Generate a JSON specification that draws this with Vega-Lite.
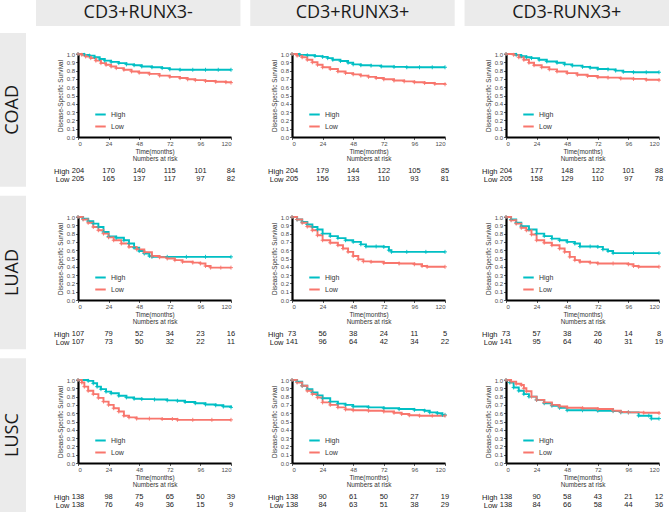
{
"$schema":"https://vega.github.io/schema/vega-lite/v6.json",
"padding":0,
"background":"white",
"config":{"view":{"stroke":null},"font":"Liberation Sans",
"axis":{"grid":false,"domainColor":"#000","domainWidth":2.2,"tickColor":"#333","tickSize":2.5,"tickWidth":0.8,"labelFontSize":6,"labelColor":"#4d4d4d","labelPadding":1,"titleFontSize":6.4,"titleFontWeight":"normal","titleColor":"#333","titlePadding":2,"titleLineHeight":7},
"legend":{"labelFontSize":7,"labelColor":"#333","symbolType":"stroke","symbolStrokeWidth":2,"symbolSize":110,"rowPadding":1,"labelOffset":4,"padding":0}},
"datasets":{
"hdr":[{"g":"CD3+RUNX3-"},{"g":"CD3+RUNX3+"},{"g":"CD3-RUNX3+"}],
"rowlab":[{"c":"COAD"},{"c":"LUAD"},{"c":"LUSC"}],
"pv":[{"c":"COAD","g":"A","p":"p = 0.002"},{"c":"COAD","g":"B","p":"p < 0.001"},{"c":"COAD","g":"C","p":"p = 0.03"},{"c":"LUAD","g":"A","p":"p = 0.232"},{"c":"LUAD","g":"B","p":"p = 0.038"},{"c":"LUAD","g":"C","p":"p = 0.034"},{"c":"LUSC","g":"A","p":"p < 0.001"},{"c":"LUSC","g":"B","p":"p = 0.691"},{"c":"LUSC","g":"C","p":"p = 0.54"}],
"risk":[
{"c":"COAD","g":"A","k":"High","t":0,"n":204},{"c":"COAD","g":"A","k":"High","t":24,"n":170},{"c":"COAD","g":"A","k":"High","t":48,"n":140},{"c":"COAD","g":"A","k":"High","t":72,"n":115},{"c":"COAD","g":"A","k":"High","t":96,"n":101},{"c":"COAD","g":"A","k":"High","t":120,"n":84},
{"c":"COAD","g":"A","k":"Low","t":0,"n":205},{"c":"COAD","g":"A","k":"Low","t":24,"n":165},{"c":"COAD","g":"A","k":"Low","t":48,"n":137},{"c":"COAD","g":"A","k":"Low","t":72,"n":117},{"c":"COAD","g":"A","k":"Low","t":96,"n":97},{"c":"COAD","g":"A","k":"Low","t":120,"n":82},
{"c":"COAD","g":"B","k":"High","t":0,"n":204},{"c":"COAD","g":"B","k":"High","t":24,"n":179},{"c":"COAD","g":"B","k":"High","t":48,"n":144},{"c":"COAD","g":"B","k":"High","t":72,"n":122},{"c":"COAD","g":"B","k":"High","t":96,"n":105},{"c":"COAD","g":"B","k":"High","t":120,"n":85},
{"c":"COAD","g":"B","k":"Low","t":0,"n":205},{"c":"COAD","g":"B","k":"Low","t":24,"n":156},{"c":"COAD","g":"B","k":"Low","t":48,"n":133},{"c":"COAD","g":"B","k":"Low","t":72,"n":110},{"c":"COAD","g":"B","k":"Low","t":96,"n":93},{"c":"COAD","g":"B","k":"Low","t":120,"n":81},
{"c":"COAD","g":"C","k":"High","t":0,"n":204},{"c":"COAD","g":"C","k":"High","t":24,"n":177},{"c":"COAD","g":"C","k":"High","t":48,"n":148},{"c":"COAD","g":"C","k":"High","t":72,"n":122},{"c":"COAD","g":"C","k":"High","t":96,"n":101},{"c":"COAD","g":"C","k":"High","t":120,"n":88},
{"c":"COAD","g":"C","k":"Low","t":0,"n":205},{"c":"COAD","g":"C","k":"Low","t":24,"n":158},{"c":"COAD","g":"C","k":"Low","t":48,"n":129},{"c":"COAD","g":"C","k":"Low","t":72,"n":110},{"c":"COAD","g":"C","k":"Low","t":96,"n":97},{"c":"COAD","g":"C","k":"Low","t":120,"n":78},
{"c":"LUAD","g":"A","k":"High","t":0,"n":107},{"c":"LUAD","g":"A","k":"High","t":24,"n":79},{"c":"LUAD","g":"A","k":"High","t":48,"n":52},{"c":"LUAD","g":"A","k":"High","t":72,"n":34},{"c":"LUAD","g":"A","k":"High","t":96,"n":23},{"c":"LUAD","g":"A","k":"High","t":120,"n":16},
{"c":"LUAD","g":"A","k":"Low","t":0,"n":107},{"c":"LUAD","g":"A","k":"Low","t":24,"n":73},{"c":"LUAD","g":"A","k":"Low","t":48,"n":50},{"c":"LUAD","g":"A","k":"Low","t":72,"n":32},{"c":"LUAD","g":"A","k":"Low","t":96,"n":22},{"c":"LUAD","g":"A","k":"Low","t":120,"n":11},
{"c":"LUAD","g":"B","k":"High","t":0,"n":73},{"c":"LUAD","g":"B","k":"High","t":24,"n":56},{"c":"LUAD","g":"B","k":"High","t":48,"n":38},{"c":"LUAD","g":"B","k":"High","t":72,"n":24},{"c":"LUAD","g":"B","k":"High","t":96,"n":11},{"c":"LUAD","g":"B","k":"High","t":120,"n":5},
{"c":"LUAD","g":"B","k":"Low","t":0,"n":141},{"c":"LUAD","g":"B","k":"Low","t":24,"n":96},{"c":"LUAD","g":"B","k":"Low","t":48,"n":64},{"c":"LUAD","g":"B","k":"Low","t":72,"n":42},{"c":"LUAD","g":"B","k":"Low","t":96,"n":34},{"c":"LUAD","g":"B","k":"Low","t":120,"n":22},
{"c":"LUAD","g":"C","k":"High","t":0,"n":73},{"c":"LUAD","g":"C","k":"High","t":24,"n":57},{"c":"LUAD","g":"C","k":"High","t":48,"n":38},{"c":"LUAD","g":"C","k":"High","t":72,"n":26},{"c":"LUAD","g":"C","k":"High","t":96,"n":14},{"c":"LUAD","g":"C","k":"High","t":120,"n":8},
{"c":"LUAD","g":"C","k":"Low","t":0,"n":141},{"c":"LUAD","g":"C","k":"Low","t":24,"n":95},{"c":"LUAD","g":"C","k":"Low","t":48,"n":64},{"c":"LUAD","g":"C","k":"Low","t":72,"n":40},{"c":"LUAD","g":"C","k":"Low","t":96,"n":31},{"c":"LUAD","g":"C","k":"Low","t":120,"n":19},
{"c":"LUSC","g":"A","k":"High","t":0,"n":138},{"c":"LUSC","g":"A","k":"High","t":24,"n":98},{"c":"LUSC","g":"A","k":"High","t":48,"n":75},{"c":"LUSC","g":"A","k":"High","t":72,"n":65},{"c":"LUSC","g":"A","k":"High","t":96,"n":50},{"c":"LUSC","g":"A","k":"High","t":120,"n":39},
{"c":"LUSC","g":"A","k":"Low","t":0,"n":138},{"c":"LUSC","g":"A","k":"Low","t":24,"n":76},{"c":"LUSC","g":"A","k":"Low","t":48,"n":49},{"c":"LUSC","g":"A","k":"Low","t":72,"n":36},{"c":"LUSC","g":"A","k":"Low","t":96,"n":15},{"c":"LUSC","g":"A","k":"Low","t":120,"n":9},
{"c":"LUSC","g":"B","k":"High","t":0,"n":138},{"c":"LUSC","g":"B","k":"High","t":24,"n":90},{"c":"LUSC","g":"B","k":"High","t":48,"n":61},{"c":"LUSC","g":"B","k":"High","t":72,"n":50},{"c":"LUSC","g":"B","k":"High","t":96,"n":27},{"c":"LUSC","g":"B","k":"High","t":120,"n":19},
{"c":"LUSC","g":"B","k":"Low","t":0,"n":138},{"c":"LUSC","g":"B","k":"Low","t":24,"n":84},{"c":"LUSC","g":"B","k":"Low","t":48,"n":63},{"c":"LUSC","g":"B","k":"Low","t":72,"n":51},{"c":"LUSC","g":"B","k":"Low","t":96,"n":38},{"c":"LUSC","g":"B","k":"Low","t":120,"n":29},
{"c":"LUSC","g":"C","k":"High","t":0,"n":138},{"c":"LUSC","g":"C","k":"High","t":24,"n":90},{"c":"LUSC","g":"C","k":"High","t":48,"n":58},{"c":"LUSC","g":"C","k":"High","t":72,"n":43},{"c":"LUSC","g":"C","k":"High","t":96,"n":21},{"c":"LUSC","g":"C","k":"High","t":120,"n":12},
{"c":"LUSC","g":"C","k":"Low","t":0,"n":138},{"c":"LUSC","g":"C","k":"Low","t":24,"n":84},{"c":"LUSC","g":"C","k":"Low","t":48,"n":66},{"c":"LUSC","g":"C","k":"Low","t":72,"n":58},{"c":"LUSC","g":"C","k":"Low","t":96,"n":44},{"c":"LUSC","g":"C","k":"Low","t":120,"n":36}
],
"km":[
{"c":"COAD","g":"A","k":"High","t":0,"s":1},{"c":"COAD","g":"A","k":"High","t":5,"s":0.99},{"c":"COAD","g":"A","k":"High","t":9,"s":0.98},{"c":"COAD","g":"A","k":"High","t":13,"s":0.96},{"c":"COAD","g":"A","k":"High","t":17,"s":0.94},{"c":"COAD","g":"A","k":"High","t":21,"s":0.92},{"c":"COAD","g":"A","k":"High","t":26,"s":0.905},{"c":"COAD","g":"A","k":"High","t":32,"s":0.89},{"c":"COAD","g":"A","k":"High","t":38,"s":0.875},{"c":"COAD","g":"A","k":"High","t":44,"s":0.865},{"c":"COAD","g":"A","k":"High","t":50,"s":0.85},{"c":"COAD","g":"A","k":"High","t":58,"s":0.84},{"c":"COAD","g":"A","k":"High","t":66,"s":0.83},{"c":"COAD","g":"A","k":"High","t":72,"s":0.815},{"c":"COAD","g":"A","k":"High","t":80,"s":0.81},{"c":"COAD","g":"A","k":"High","t":90,"s":0.81},{"c":"COAD","g":"A","k":"High","t":100,"s":0.81},{"c":"COAD","g":"A","k":"High","t":110,"s":0.81},{"c":"COAD","g":"A","k":"High","t":120,"s":0.81},
{"c":"COAD","g":"A","k":"Low","t":0,"s":1},{"c":"COAD","g":"A","k":"Low","t":3,"s":0.99},{"c":"COAD","g":"A","k":"Low","t":6,"s":0.97},{"c":"COAD","g":"A","k":"Low","t":10,"s":0.95},{"c":"COAD","g":"A","k":"Low","t":14,"s":0.92},{"c":"COAD","g":"A","k":"Low","t":18,"s":0.89},{"c":"COAD","g":"A","k":"Low","t":22,"s":0.87},{"c":"COAD","g":"A","k":"Low","t":26,"s":0.85},{"c":"COAD","g":"A","k":"Low","t":30,"s":0.83},{"c":"COAD","g":"A","k":"Low","t":36,"s":0.81},{"c":"COAD","g":"A","k":"Low","t":42,"s":0.79},{"c":"COAD","g":"A","k":"Low","t":48,"s":0.775},{"c":"COAD","g":"A","k":"Low","t":56,"s":0.76},{"c":"COAD","g":"A","k":"Low","t":64,"s":0.74},{"c":"COAD","g":"A","k":"Low","t":72,"s":0.725},{"c":"COAD","g":"A","k":"Low","t":80,"s":0.71},{"c":"COAD","g":"A","k":"Low","t":86,"s":0.695},{"c":"COAD","g":"A","k":"Low","t":92,"s":0.685},{"c":"COAD","g":"A","k":"Low","t":100,"s":0.675},{"c":"COAD","g":"A","k":"Low","t":108,"s":0.665},{"c":"COAD","g":"A","k":"Low","t":116,"s":0.66},{"c":"COAD","g":"A","k":"Low","t":120,"s":0.655},
{"c":"COAD","g":"B","k":"High","t":0,"s":1},{"c":"COAD","g":"B","k":"High","t":6,"s":0.99},{"c":"COAD","g":"B","k":"High","t":12,"s":0.985},{"c":"COAD","g":"B","k":"High","t":18,"s":0.975},{"c":"COAD","g":"B","k":"High","t":24,"s":0.965},{"c":"COAD","g":"B","k":"High","t":28,"s":0.95},{"c":"COAD","g":"B","k":"High","t":32,"s":0.93},{"c":"COAD","g":"B","k":"High","t":38,"s":0.915},{"c":"COAD","g":"B","k":"High","t":44,"s":0.895},{"c":"COAD","g":"B","k":"High","t":48,"s":0.875},{"c":"COAD","g":"B","k":"High","t":54,"s":0.865},{"c":"COAD","g":"B","k":"High","t":62,"s":0.86},{"c":"COAD","g":"B","k":"High","t":70,"s":0.85},{"c":"COAD","g":"B","k":"High","t":80,"s":0.845},{"c":"COAD","g":"B","k":"High","t":90,"s":0.84},{"c":"COAD","g":"B","k":"High","t":100,"s":0.84},{"c":"COAD","g":"B","k":"High","t":110,"s":0.84},{"c":"COAD","g":"B","k":"High","t":120,"s":0.84},
{"c":"COAD","g":"B","k":"Low","t":0,"s":1},{"c":"COAD","g":"B","k":"Low","t":4,"s":0.98},{"c":"COAD","g":"B","k":"Low","t":8,"s":0.96},{"c":"COAD","g":"B","k":"Low","t":12,"s":0.93},{"c":"COAD","g":"B","k":"Low","t":16,"s":0.9},{"c":"COAD","g":"B","k":"Low","t":20,"s":0.87},{"c":"COAD","g":"B","k":"Low","t":24,"s":0.84},{"c":"COAD","g":"B","k":"Low","t":30,"s":0.82},{"c":"COAD","g":"B","k":"Low","t":36,"s":0.79},{"c":"COAD","g":"B","k":"Low","t":42,"s":0.77},{"c":"COAD","g":"B","k":"Low","t":48,"s":0.755},{"c":"COAD","g":"B","k":"Low","t":54,"s":0.74},{"c":"COAD","g":"B","k":"Low","t":60,"s":0.725},{"c":"COAD","g":"B","k":"Low","t":66,"s":0.71},{"c":"COAD","g":"B","k":"Low","t":72,"s":0.695},{"c":"COAD","g":"B","k":"Low","t":80,"s":0.68},{"c":"COAD","g":"B","k":"Low","t":88,"s":0.67},{"c":"COAD","g":"B","k":"Low","t":96,"s":0.66},{"c":"COAD","g":"B","k":"Low","t":104,"s":0.65},{"c":"COAD","g":"B","k":"Low","t":112,"s":0.64},{"c":"COAD","g":"B","k":"Low","t":120,"s":0.635},
{"c":"COAD","g":"C","k":"High","t":0,"s":1},{"c":"COAD","g":"C","k":"High","t":8,"s":0.99},{"c":"COAD","g":"C","k":"High","t":12,"s":0.975},{"c":"COAD","g":"C","k":"High","t":16,"s":0.96},{"c":"COAD","g":"C","k":"High","t":20,"s":0.95},{"c":"COAD","g":"C","k":"High","t":26,"s":0.93},{"c":"COAD","g":"C","k":"High","t":32,"s":0.91},{"c":"COAD","g":"C","k":"High","t":40,"s":0.895},{"c":"COAD","g":"C","k":"High","t":46,"s":0.875},{"c":"COAD","g":"C","k":"High","t":52,"s":0.86},{"c":"COAD","g":"C","k":"High","t":60,"s":0.845},{"c":"COAD","g":"C","k":"High","t":66,"s":0.835},{"c":"COAD","g":"C","k":"High","t":72,"s":0.82},{"c":"COAD","g":"C","k":"High","t":80,"s":0.815},{"c":"COAD","g":"C","k":"High","t":86,"s":0.8},{"c":"COAD","g":"C","k":"High","t":92,"s":0.785},{"c":"COAD","g":"C","k":"High","t":100,"s":0.78},{"c":"COAD","g":"C","k":"High","t":110,"s":0.78},{"c":"COAD","g":"C","k":"High","t":120,"s":0.78},
{"c":"COAD","g":"C","k":"Low","t":0,"s":1},{"c":"COAD","g":"C","k":"Low","t":6,"s":0.99},{"c":"COAD","g":"C","k":"Low","t":10,"s":0.96},{"c":"COAD","g":"C","k":"Low","t":14,"s":0.93},{"c":"COAD","g":"C","k":"Low","t":18,"s":0.895},{"c":"COAD","g":"C","k":"Low","t":22,"s":0.865},{"c":"COAD","g":"C","k":"Low","t":28,"s":0.84},{"c":"COAD","g":"C","k":"Low","t":34,"s":0.815},{"c":"COAD","g":"C","k":"Low","t":40,"s":0.79},{"c":"COAD","g":"C","k":"Low","t":48,"s":0.77},{"c":"COAD","g":"C","k":"Low","t":56,"s":0.75},{"c":"COAD","g":"C","k":"Low","t":64,"s":0.735},{"c":"COAD","g":"C","k":"Low","t":72,"s":0.72},{"c":"COAD","g":"C","k":"Low","t":80,"s":0.715},{"c":"COAD","g":"C","k":"Low","t":90,"s":0.705},{"c":"COAD","g":"C","k":"Low","t":100,"s":0.7},{"c":"COAD","g":"C","k":"Low","t":110,"s":0.69},{"c":"COAD","g":"C","k":"Low","t":120,"s":0.685},
{"c":"LUAD","g":"A","k":"High","t":0,"s":1},{"c":"LUAD","g":"A","k":"High","t":4,"s":0.98},{"c":"LUAD","g":"A","k":"High","t":8,"s":0.95},{"c":"LUAD","g":"A","k":"High","t":12,"s":0.92},{"c":"LUAD","g":"A","k":"High","t":16,"s":0.88},{"c":"LUAD","g":"A","k":"High","t":20,"s":0.82},{"c":"LUAD","g":"A","k":"High","t":24,"s":0.765},{"c":"LUAD","g":"A","k":"High","t":30,"s":0.75},{"c":"LUAD","g":"A","k":"High","t":36,"s":0.72},{"c":"LUAD","g":"A","k":"High","t":40,"s":0.68},{"c":"LUAD","g":"A","k":"High","t":44,"s":0.63},{"c":"LUAD","g":"A","k":"High","t":48,"s":0.59},{"c":"LUAD","g":"A","k":"High","t":52,"s":0.56},{"c":"LUAD","g":"A","k":"High","t":56,"s":0.53},{"c":"LUAD","g":"A","k":"High","t":58,"s":0.52},{"c":"LUAD","g":"A","k":"High","t":70,"s":0.52},{"c":"LUAD","g":"A","k":"High","t":85,"s":0.52},{"c":"LUAD","g":"A","k":"High","t":100,"s":0.52},{"c":"LUAD","g":"A","k":"High","t":120,"s":0.52},
{"c":"LUAD","g":"A","k":"Low","t":0,"s":1},{"c":"LUAD","g":"A","k":"Low","t":4,"s":0.97},{"c":"LUAD","g":"A","k":"Low","t":8,"s":0.93},{"c":"LUAD","g":"A","k":"Low","t":12,"s":0.88},{"c":"LUAD","g":"A","k":"Low","t":16,"s":0.84},{"c":"LUAD","g":"A","k":"Low","t":20,"s":0.8},{"c":"LUAD","g":"A","k":"Low","t":24,"s":0.755},{"c":"LUAD","g":"A","k":"Low","t":28,"s":0.72},{"c":"LUAD","g":"A","k":"Low","t":34,"s":0.68},{"c":"LUAD","g":"A","k":"Low","t":40,"s":0.64},{"c":"LUAD","g":"A","k":"Low","t":46,"s":0.61},{"c":"LUAD","g":"A","k":"Low","t":52,"s":0.575},{"c":"LUAD","g":"A","k":"Low","t":58,"s":0.53},{"c":"LUAD","g":"A","k":"Low","t":64,"s":0.515},{"c":"LUAD","g":"A","k":"Low","t":70,"s":0.5},{"c":"LUAD","g":"A","k":"Low","t":76,"s":0.48},{"c":"LUAD","g":"A","k":"Low","t":82,"s":0.46},{"c":"LUAD","g":"A","k":"Low","t":90,"s":0.45},{"c":"LUAD","g":"A","k":"Low","t":96,"s":0.44},{"c":"LUAD","g":"A","k":"Low","t":100,"s":0.41},{"c":"LUAD","g":"A","k":"Low","t":104,"s":0.39},{"c":"LUAD","g":"A","k":"Low","t":112,"s":0.39},{"c":"LUAD","g":"A","k":"Low","t":120,"s":0.39},
{"c":"LUAD","g":"B","k":"High","t":0,"s":1},{"c":"LUAD","g":"B","k":"High","t":4,"s":0.97},{"c":"LUAD","g":"B","k":"High","t":8,"s":0.94},{"c":"LUAD","g":"B","k":"High","t":12,"s":0.91},{"c":"LUAD","g":"B","k":"High","t":16,"s":0.88},{"c":"LUAD","g":"B","k":"High","t":20,"s":0.85},{"c":"LUAD","g":"B","k":"High","t":24,"s":0.8},{"c":"LUAD","g":"B","k":"High","t":30,"s":0.77},{"c":"LUAD","g":"B","k":"High","t":36,"s":0.745},{"c":"LUAD","g":"B","k":"High","t":42,"s":0.72},{"c":"LUAD","g":"B","k":"High","t":48,"s":0.7},{"c":"LUAD","g":"B","k":"High","t":54,"s":0.67},{"c":"LUAD","g":"B","k":"High","t":58,"s":0.645},{"c":"LUAD","g":"B","k":"High","t":66,"s":0.645},{"c":"LUAD","g":"B","k":"High","t":72,"s":0.64},{"c":"LUAD","g":"B","k":"High","t":76,"s":0.6},{"c":"LUAD","g":"B","k":"High","t":78,"s":0.58},{"c":"LUAD","g":"B","k":"High","t":90,"s":0.58},{"c":"LUAD","g":"B","k":"High","t":105,"s":0.58},{"c":"LUAD","g":"B","k":"High","t":120,"s":0.58},
{"c":"LUAD","g":"B","k":"Low","t":0,"s":1},{"c":"LUAD","g":"B","k":"Low","t":4,"s":0.97},{"c":"LUAD","g":"B","k":"Low","t":8,"s":0.93},{"c":"LUAD","g":"B","k":"Low","t":12,"s":0.885},{"c":"LUAD","g":"B","k":"Low","t":16,"s":0.84},{"c":"LUAD","g":"B","k":"Low","t":20,"s":0.78},{"c":"LUAD","g":"B","k":"Low","t":24,"s":0.72},{"c":"LUAD","g":"B","k":"Low","t":30,"s":0.69},{"c":"LUAD","g":"B","k":"Low","t":36,"s":0.66},{"c":"LUAD","g":"B","k":"Low","t":40,"s":0.62},{"c":"LUAD","g":"B","k":"Low","t":44,"s":0.58},{"c":"LUAD","g":"B","k":"Low","t":48,"s":0.53},{"c":"LUAD","g":"B","k":"Low","t":52,"s":0.49},{"c":"LUAD","g":"B","k":"Low","t":56,"s":0.465},{"c":"LUAD","g":"B","k":"Low","t":62,"s":0.46},{"c":"LUAD","g":"B","k":"Low","t":72,"s":0.445},{"c":"LUAD","g":"B","k":"Low","t":84,"s":0.44},{"c":"LUAD","g":"B","k":"Low","t":96,"s":0.43},{"c":"LUAD","g":"B","k":"Low","t":102,"s":0.41},{"c":"LUAD","g":"B","k":"Low","t":106,"s":0.4},{"c":"LUAD","g":"B","k":"Low","t":120,"s":0.4},
{"c":"LUAD","g":"C","k":"High","t":0,"s":1},{"c":"LUAD","g":"C","k":"High","t":4,"s":0.97},{"c":"LUAD","g":"C","k":"High","t":8,"s":0.93},{"c":"LUAD","g":"C","k":"High","t":12,"s":0.89},{"c":"LUAD","g":"C","k":"High","t":18,"s":0.85},{"c":"LUAD","g":"C","k":"High","t":24,"s":0.8},{"c":"LUAD","g":"C","k":"High","t":30,"s":0.77},{"c":"LUAD","g":"C","k":"High","t":36,"s":0.74},{"c":"LUAD","g":"C","k":"High","t":42,"s":0.72},{"c":"LUAD","g":"C","k":"High","t":48,"s":0.7},{"c":"LUAD","g":"C","k":"High","t":54,"s":0.68},{"c":"LUAD","g":"C","k":"High","t":58,"s":0.645},{"c":"LUAD","g":"C","k":"High","t":66,"s":0.645},{"c":"LUAD","g":"C","k":"High","t":72,"s":0.64},{"c":"LUAD","g":"C","k":"High","t":76,"s":0.61},{"c":"LUAD","g":"C","k":"High","t":80,"s":0.59},{"c":"LUAD","g":"C","k":"High","t":84,"s":0.565},{"c":"LUAD","g":"C","k":"High","t":100,"s":0.565},{"c":"LUAD","g":"C","k":"High","t":120,"s":0.565},
{"c":"LUAD","g":"C","k":"Low","t":0,"s":1},{"c":"LUAD","g":"C","k":"Low","t":4,"s":0.96},{"c":"LUAD","g":"C","k":"Low","t":8,"s":0.92},{"c":"LUAD","g":"C","k":"Low","t":12,"s":0.87},{"c":"LUAD","g":"C","k":"Low","t":16,"s":0.84},{"c":"LUAD","g":"C","k":"Low","t":20,"s":0.79},{"c":"LUAD","g":"C","k":"Low","t":24,"s":0.72},{"c":"LUAD","g":"C","k":"Low","t":30,"s":0.69},{"c":"LUAD","g":"C","k":"Low","t":36,"s":0.66},{"c":"LUAD","g":"C","k":"Low","t":42,"s":0.62},{"c":"LUAD","g":"C","k":"Low","t":46,"s":0.58},{"c":"LUAD","g":"C","k":"Low","t":50,"s":0.52},{"c":"LUAD","g":"C","k":"Low","t":54,"s":0.48},{"c":"LUAD","g":"C","k":"Low","t":58,"s":0.46},{"c":"LUAD","g":"C","k":"Low","t":66,"s":0.45},{"c":"LUAD","g":"C","k":"Low","t":72,"s":0.44},{"c":"LUAD","g":"C","k":"Low","t":84,"s":0.44},{"c":"LUAD","g":"C","k":"Low","t":96,"s":0.43},{"c":"LUAD","g":"C","k":"Low","t":100,"s":0.41},{"c":"LUAD","g":"C","k":"Low","t":104,"s":0.4},{"c":"LUAD","g":"C","k":"Low","t":120,"s":0.4},
{"c":"LUSC","g":"A","k":"High","t":0,"s":1},{"c":"LUSC","g":"A","k":"High","t":8,"s":0.99},{"c":"LUSC","g":"A","k":"High","t":12,"s":0.96},{"c":"LUSC","g":"A","k":"High","t":15,"s":0.92},{"c":"LUSC","g":"A","k":"High","t":18,"s":0.89},{"c":"LUSC","g":"A","k":"High","t":22,"s":0.86},{"c":"LUSC","g":"A","k":"High","t":26,"s":0.84},{"c":"LUSC","g":"A","k":"High","t":32,"s":0.81},{"c":"LUSC","g":"A","k":"High","t":38,"s":0.79},{"c":"LUSC","g":"A","k":"High","t":44,"s":0.775},{"c":"LUSC","g":"A","k":"High","t":50,"s":0.77},{"c":"LUSC","g":"A","k":"High","t":60,"s":0.765},{"c":"LUSC","g":"A","k":"High","t":70,"s":0.755},{"c":"LUSC","g":"A","k":"High","t":78,"s":0.75},{"c":"LUSC","g":"A","k":"High","t":84,"s":0.735},{"c":"LUSC","g":"A","k":"High","t":92,"s":0.72},{"c":"LUSC","g":"A","k":"High","t":100,"s":0.705},{"c":"LUSC","g":"A","k":"High","t":108,"s":0.695},{"c":"LUSC","g":"A","k":"High","t":114,"s":0.68},{"c":"LUSC","g":"A","k":"High","t":120,"s":0.67},
{"c":"LUSC","g":"A","k":"Low","t":0,"s":1},{"c":"LUSC","g":"A","k":"Low","t":3,"s":0.97},{"c":"LUSC","g":"A","k":"Low","t":5,"s":0.92},{"c":"LUSC","g":"A","k":"Low","t":8,"s":0.87},{"c":"LUSC","g":"A","k":"Low","t":12,"s":0.83},{"c":"LUSC","g":"A","k":"Low","t":16,"s":0.785},{"c":"LUSC","g":"A","k":"Low","t":20,"s":0.74},{"c":"LUSC","g":"A","k":"Low","t":24,"s":0.7},{"c":"LUSC","g":"A","k":"Low","t":28,"s":0.66},{"c":"LUSC","g":"A","k":"Low","t":32,"s":0.62},{"c":"LUSC","g":"A","k":"Low","t":36,"s":0.57},{"c":"LUSC","g":"A","k":"Low","t":40,"s":0.55},{"c":"LUSC","g":"A","k":"Low","t":46,"s":0.535},{"c":"LUSC","g":"A","k":"Low","t":56,"s":0.535},{"c":"LUSC","g":"A","k":"Low","t":66,"s":0.53},{"c":"LUSC","g":"A","k":"Low","t":74,"s":0.53},{"c":"LUSC","g":"A","k":"Low","t":78,"s":0.52},{"c":"LUSC","g":"A","k":"Low","t":90,"s":0.52},{"c":"LUSC","g":"A","k":"Low","t":105,"s":0.52},{"c":"LUSC","g":"A","k":"Low","t":120,"s":0.52},
{"c":"LUSC","g":"B","k":"High","t":0,"s":1},{"c":"LUSC","g":"B","k":"High","t":4,"s":0.98},{"c":"LUSC","g":"B","k":"High","t":8,"s":0.93},{"c":"LUSC","g":"B","k":"High","t":12,"s":0.89},{"c":"LUSC","g":"B","k":"High","t":16,"s":0.85},{"c":"LUSC","g":"B","k":"High","t":20,"s":0.815},{"c":"LUSC","g":"B","k":"High","t":24,"s":0.78},{"c":"LUSC","g":"B","k":"High","t":30,"s":0.74},{"c":"LUSC","g":"B","k":"High","t":36,"s":0.715},{"c":"LUSC","g":"B","k":"High","t":42,"s":0.7},{"c":"LUSC","g":"B","k":"High","t":48,"s":0.68},{"c":"LUSC","g":"B","k":"High","t":60,"s":0.67},{"c":"LUSC","g":"B","k":"High","t":72,"s":0.66},{"c":"LUSC","g":"B","k":"High","t":84,"s":0.65},{"c":"LUSC","g":"B","k":"High","t":96,"s":0.64},{"c":"LUSC","g":"B","k":"High","t":104,"s":0.63},{"c":"LUSC","g":"B","k":"High","t":108,"s":0.61},{"c":"LUSC","g":"B","k":"High","t":114,"s":0.6},{"c":"LUSC","g":"B","k":"High","t":118,"s":0.58},{"c":"LUSC","g":"B","k":"High","t":120,"s":0.58},
{"c":"LUSC","g":"B","k":"Low","t":0,"s":1},{"c":"LUSC","g":"B","k":"Low","t":4,"s":0.97},{"c":"LUSC","g":"B","k":"Low","t":8,"s":0.93},{"c":"LUSC","g":"B","k":"Low","t":12,"s":0.87},{"c":"LUSC","g":"B","k":"Low","t":16,"s":0.83},{"c":"LUSC","g":"B","k":"Low","t":20,"s":0.79},{"c":"LUSC","g":"B","k":"Low","t":24,"s":0.73},{"c":"LUSC","g":"B","k":"Low","t":30,"s":0.7},{"c":"LUSC","g":"B","k":"Low","t":36,"s":0.67},{"c":"LUSC","g":"B","k":"Low","t":42,"s":0.645},{"c":"LUSC","g":"B","k":"Low","t":48,"s":0.635},{"c":"LUSC","g":"B","k":"Low","t":60,"s":0.63},{"c":"LUSC","g":"B","k":"Low","t":72,"s":0.62},{"c":"LUSC","g":"B","k":"Low","t":80,"s":0.605},{"c":"LUSC","g":"B","k":"Low","t":86,"s":0.59},{"c":"LUSC","g":"B","k":"Low","t":92,"s":0.575},{"c":"LUSC","g":"B","k":"Low","t":100,"s":0.57},{"c":"LUSC","g":"B","k":"Low","t":110,"s":0.57},{"c":"LUSC","g":"B","k":"Low","t":120,"s":0.57},
{"c":"LUSC","g":"C","k":"High","t":0,"s":1},{"c":"LUSC","g":"C","k":"High","t":3,"s":0.97},{"c":"LUSC","g":"C","k":"High","t":6,"s":0.91},{"c":"LUSC","g":"C","k":"High","t":10,"s":0.87},{"c":"LUSC","g":"C","k":"High","t":14,"s":0.83},{"c":"LUSC","g":"C","k":"High","t":18,"s":0.8},{"c":"LUSC","g":"C","k":"High","t":24,"s":0.76},{"c":"LUSC","g":"C","k":"High","t":30,"s":0.72},{"c":"LUSC","g":"C","k":"High","t":36,"s":0.69},{"c":"LUSC","g":"C","k":"High","t":42,"s":0.665},{"c":"LUSC","g":"C","k":"High","t":48,"s":0.635},{"c":"LUSC","g":"C","k":"High","t":60,"s":0.635},{"c":"LUSC","g":"C","k":"High","t":72,"s":0.63},{"c":"LUSC","g":"C","k":"High","t":84,"s":0.625},{"c":"LUSC","g":"C","k":"High","t":90,"s":0.61},{"c":"LUSC","g":"C","k":"High","t":96,"s":0.61},{"c":"LUSC","g":"C","k":"High","t":104,"s":0.57},{"c":"LUSC","g":"C","k":"High","t":112,"s":0.57},{"c":"LUSC","g":"C","k":"High","t":114,"s":0.535},{"c":"LUSC","g":"C","k":"High","t":120,"s":0.535},
{"c":"LUSC","g":"C","k":"Low","t":0,"s":1},{"c":"LUSC","g":"C","k":"Low","t":4,"s":0.98},{"c":"LUSC","g":"C","k":"Low","t":8,"s":0.955},{"c":"LUSC","g":"C","k":"Low","t":12,"s":0.94},{"c":"LUSC","g":"C","k":"Low","t":14,"s":0.9},{"c":"LUSC","g":"C","k":"Low","t":16,"s":0.865},{"c":"LUSC","g":"C","k":"Low","t":20,"s":0.8},{"c":"LUSC","g":"C","k":"Low","t":24,"s":0.76},{"c":"LUSC","g":"C","k":"Low","t":30,"s":0.73},{"c":"LUSC","g":"C","k":"Low","t":36,"s":0.7},{"c":"LUSC","g":"C","k":"Low","t":42,"s":0.68},{"c":"LUSC","g":"C","k":"Low","t":48,"s":0.665},{"c":"LUSC","g":"C","k":"Low","t":60,"s":0.66},{"c":"LUSC","g":"C","k":"Low","t":72,"s":0.65},{"c":"LUSC","g":"C","k":"Low","t":84,"s":0.63},{"c":"LUSC","g":"C","k":"Low","t":90,"s":0.615},{"c":"LUSC","g":"C","k":"Low","t":96,"s":0.61},{"c":"LUSC","g":"C","k":"Low","t":108,"s":0.605},{"c":"LUSC","g":"C","k":"Low","t":120,"s":0.6}
]},
"vconcat":[
 {"hconcat":[
   {"width":26,"height":26,"data":{"values":[]},"mark":"rect"},
   {"width":633,"height":26,"data":{"name":"hdr"},
    "encoding":{"x":{"field":"g","type":"nominal","sort":null,"axis":null,"scale":{"paddingInner":0.046,"paddingOuter":0}}},
    "layer":[{"mark":{"type":"rect","color":"#ebebeb"}},
             {"mark":{"type":"text","font":"Open Sans","fontSize":18,"color":"#1a1a1a"},"encoding":{"text":{"field":"g"}}}]}
  ],"spacing":10,"bounds":"flush"},
 {"hconcat":[
   {"width":26,"height":479,"data":{"name":"rowlab"},
    "encoding":{"y":{"field":"c","type":"nominal","sort":null,"axis":null,"scale":{"paddingInner":0.055,"paddingOuter":0}}},
    "layer":[{"mark":{"type":"rect","color":"#ebebeb"}},
             {"mark":{"type":"text","font":"Open Sans","fontSize":18,"color":"#1a1a1a","angle":270},"encoding":{"text":{"field":"c"}}}]},
   {"vconcat":[
     {"width":1,"height":17,"data":{"values":[]},"mark":"rect"},
     {"vconcat":[
       {"hconcat":[
{"vconcat":[{"width":153,"height":83,"encoding":{"x":{"field":"t","type":"quantitative","scale":{"domain":[0,120]},"axis":{"values":[0,24,48,72,96,120],"title":["Time(months)","Numbers at risk"]}},"y":{"field":"s","type":"quantitative","scale":{"domain":[0,1]},"axis":{"values":[0,0.1,0.2,0.3,0.4,0.5,0.6,0.7,0.8,0.9,1],"format":".1f","title":"Disease-Specific Survival","titlePadding":3}}},"layer":[
{"data":{"name":"km"},"transform":[{"filter":"datum.c=='COAD'&&datum.g=='A'"}],"mark":{"type":"line","interpolate":"step-after","strokeWidth":1.9},"encoding":{"color":{"field":"k","type":"nominal","scale":{"domain":["High","Low"],"range":["#00BFC4","#F8766D"]},"legend":{"title":null,"orient":"none","legendX":16,"legendY":54}}}},
{"data":{"name":"km"},"transform":[{"filter":"datum.c=='COAD'&&datum.g=='A'"}],"mark":{"type":"point","shape":"M-1,0H1M0,-1V1","size":16,"strokeWidth":0.9,"opacity":1},"encoding":{"color":{"field":"k","type":"nominal"}}},
{"data":{"name":"pv"},"transform":[{"filter":"datum.c=='COAD'&&datum.g=='A'"}],"mark":{"type":"text","fontSize":7,"fontWeight":"bold","color":"#000"},"encoding":{"x":{"datum":96,"type":"quantitative"},"y":{"datum":0.1,"type":"quantitative"},"text":{"field":"p"}}}]},
{"width":153,"height":16,"data":{"name":"risk"},"transform":[{"filter":"datum.c=='COAD'&&datum.g=='A'"}],"mark":{"type":"text","fontSize":7.5,"color":"#1a1a1a"},"encoding":{"x":{"field":"t","type":"quantitative","scale":{"domain":[0,120]},"axis":null},"y":{"field":"k","type":"nominal","scale":{"domain":["High","Low"]},"axis":{"title":null,"domain":false,"ticks":false,"labelPadding":9,"labelFontSize":7.5,"labelColor":"#1a1a1a"}},"text":{"field":"n"}}}
],"spacing":30,"bounds":"flush","resolve":{"scale":{"color":"independent"},"legend":{"color":"independent"}}},
{"vconcat":[{"width":153,"height":83,"encoding":{"x":{"field":"t","type":"quantitative","scale":{"domain":[0,120]},"axis":{"values":[0,24,48,72,96,120],"title":["Time(months)","Numbers at risk"]}},"y":{"field":"s","type":"quantitative","scale":{"domain":[0,1]},"axis":{"values":[0,0.1,0.2,0.3,0.4,0.5,0.6,0.7,0.8,0.9,1],"format":".1f","title":"Disease-Specific Survival","titlePadding":3}}},"layer":[
{"data":{"name":"km"},"transform":[{"filter":"datum.c=='COAD'&&datum.g=='B'"}],"mark":{"type":"line","interpolate":"step-after","strokeWidth":1.9},"encoding":{"color":{"field":"k","type":"nominal","scale":{"domain":["High","Low"],"range":["#00BFC4","#F8766D"]},"legend":{"title":null,"orient":"none","legendX":16,"legendY":54}}}},
{"data":{"name":"km"},"transform":[{"filter":"datum.c=='COAD'&&datum.g=='B'"}],"mark":{"type":"point","shape":"M-1,0H1M0,-1V1","size":16,"strokeWidth":0.9,"opacity":1},"encoding":{"color":{"field":"k","type":"nominal"}}},
{"data":{"name":"pv"},"transform":[{"filter":"datum.c=='COAD'&&datum.g=='B'"}],"mark":{"type":"text","fontSize":7,"fontWeight":"bold","color":"#000"},"encoding":{"x":{"datum":96,"type":"quantitative"},"y":{"datum":0.1,"type":"quantitative"},"text":{"field":"p"}}}]},
{"width":153,"height":16,"data":{"name":"risk"},"transform":[{"filter":"datum.c=='COAD'&&datum.g=='B'"}],"mark":{"type":"text","fontSize":7.5,"color":"#1a1a1a"},"encoding":{"x":{"field":"t","type":"quantitative","scale":{"domain":[0,120]},"axis":null},"y":{"field":"k","type":"nominal","scale":{"domain":["High","Low"]},"axis":{"title":null,"domain":false,"ticks":false,"labelPadding":9,"labelFontSize":7.5,"labelColor":"#1a1a1a"}},"text":{"field":"n"}}}
],"spacing":30,"bounds":"flush","resolve":{"scale":{"color":"independent"},"legend":{"color":"independent"}}},
{"vconcat":[{"width":153,"height":83,"encoding":{"x":{"field":"t","type":"quantitative","scale":{"domain":[0,120]},"axis":{"values":[0,24,48,72,96,120],"title":["Time(months)","Numbers at risk"]}},"y":{"field":"s","type":"quantitative","scale":{"domain":[0,1]},"axis":{"values":[0,0.1,0.2,0.3,0.4,0.5,0.6,0.7,0.8,0.9,1],"format":".1f","title":"Disease-Specific Survival","titlePadding":3}}},"layer":[
{"data":{"name":"km"},"transform":[{"filter":"datum.c=='COAD'&&datum.g=='C'"}],"mark":{"type":"line","interpolate":"step-after","strokeWidth":1.9},"encoding":{"color":{"field":"k","type":"nominal","scale":{"domain":["High","Low"],"range":["#00BFC4","#F8766D"]},"legend":{"title":null,"orient":"none","legendX":16,"legendY":54}}}},
{"data":{"name":"km"},"transform":[{"filter":"datum.c=='COAD'&&datum.g=='C'"}],"mark":{"type":"point","shape":"M-1,0H1M0,-1V1","size":16,"strokeWidth":0.9,"opacity":1},"encoding":{"color":{"field":"k","type":"nominal"}}},
{"data":{"name":"pv"},"transform":[{"filter":"datum.c=='COAD'&&datum.g=='C'"}],"mark":{"type":"text","fontSize":7,"fontWeight":"bold","color":"#000"},"encoding":{"x":{"datum":96,"type":"quantitative"},"y":{"datum":0.1,"type":"quantitative"},"text":{"field":"p"}}}]},
{"width":153,"height":16,"data":{"name":"risk"},"transform":[{"filter":"datum.c=='COAD'&&datum.g=='C'"}],"mark":{"type":"text","fontSize":7.5,"color":"#1a1a1a"},"encoding":{"x":{"field":"t","type":"quantitative","scale":{"domain":[0,120]},"axis":null},"y":{"field":"k","type":"nominal","scale":{"domain":["High","Low"]},"axis":{"title":null,"domain":false,"ticks":false,"labelPadding":9,"labelFontSize":7.5,"labelColor":"#1a1a1a"}},"text":{"field":"n"}}}
],"spacing":30,"bounds":"flush","resolve":{"scale":{"color":"independent"},"legend":{"color":"independent"}}}
       ],"spacing":31},
       {"hconcat":[
{"vconcat":[{"width":153,"height":83,"encoding":{"x":{"field":"t","type":"quantitative","scale":{"domain":[0,120]},"axis":{"values":[0,24,48,72,96,120],"title":["Time(months)","Numbers at risk"]}},"y":{"field":"s","type":"quantitative","scale":{"domain":[0,1]},"axis":{"values":[0,0.1,0.2,0.3,0.4,0.5,0.6,0.7,0.8,0.9,1],"format":".1f","title":"Disease-Specific Survival","titlePadding":3}}},"layer":[
{"data":{"name":"km"},"transform":[{"filter":"datum.c=='LUAD'&&datum.g=='A'"}],"mark":{"type":"line","interpolate":"step-after","strokeWidth":1.9},"encoding":{"color":{"field":"k","type":"nominal","scale":{"domain":["High","Low"],"range":["#00BFC4","#F8766D"]},"legend":{"title":null,"orient":"none","legendX":16,"legendY":54}}}},
{"data":{"name":"km"},"transform":[{"filter":"datum.c=='LUAD'&&datum.g=='A'"}],"mark":{"type":"point","shape":"M-1,0H1M0,-1V1","size":16,"strokeWidth":0.9,"opacity":1},"encoding":{"color":{"field":"k","type":"nominal"}}},
{"data":{"name":"pv"},"transform":[{"filter":"datum.c=='LUAD'&&datum.g=='A'"}],"mark":{"type":"text","fontSize":7,"fontWeight":"bold","color":"#000"},"encoding":{"x":{"datum":96,"type":"quantitative"},"y":{"datum":0.1,"type":"quantitative"},"text":{"field":"p"}}}]},
{"width":153,"height":16,"data":{"name":"risk"},"transform":[{"filter":"datum.c=='LUAD'&&datum.g=='A'"}],"mark":{"type":"text","fontSize":7.5,"color":"#1a1a1a"},"encoding":{"x":{"field":"t","type":"quantitative","scale":{"domain":[0,120]},"axis":null},"y":{"field":"k","type":"nominal","scale":{"domain":["High","Low"]},"axis":{"title":null,"domain":false,"ticks":false,"labelPadding":9,"labelFontSize":7.5,"labelColor":"#1a1a1a"}},"text":{"field":"n"}}}
],"spacing":30,"bounds":"flush","resolve":{"scale":{"color":"independent"},"legend":{"color":"independent"}}},
{"vconcat":[{"width":153,"height":83,"encoding":{"x":{"field":"t","type":"quantitative","scale":{"domain":[0,120]},"axis":{"values":[0,24,48,72,96,120],"title":["Time(months)","Numbers at risk"]}},"y":{"field":"s","type":"quantitative","scale":{"domain":[0,1]},"axis":{"values":[0,0.1,0.2,0.3,0.4,0.5,0.6,0.7,0.8,0.9,1],"format":".1f","title":"Disease-Specific Survival","titlePadding":3}}},"layer":[
{"data":{"name":"km"},"transform":[{"filter":"datum.c=='LUAD'&&datum.g=='B'"}],"mark":{"type":"line","interpolate":"step-after","strokeWidth":1.9},"encoding":{"color":{"field":"k","type":"nominal","scale":{"domain":["High","Low"],"range":["#00BFC4","#F8766D"]},"legend":{"title":null,"orient":"none","legendX":16,"legendY":54}}}},
{"data":{"name":"km"},"transform":[{"filter":"datum.c=='LUAD'&&datum.g=='B'"}],"mark":{"type":"point","shape":"M-1,0H1M0,-1V1","size":16,"strokeWidth":0.9,"opacity":1},"encoding":{"color":{"field":"k","type":"nominal"}}},
{"data":{"name":"pv"},"transform":[{"filter":"datum.c=='LUAD'&&datum.g=='B'"}],"mark":{"type":"text","fontSize":7,"fontWeight":"bold","color":"#000"},"encoding":{"x":{"datum":96,"type":"quantitative"},"y":{"datum":0.1,"type":"quantitative"},"text":{"field":"p"}}}]},
{"width":153,"height":16,"data":{"name":"risk"},"transform":[{"filter":"datum.c=='LUAD'&&datum.g=='B'"}],"mark":{"type":"text","fontSize":7.5,"color":"#1a1a1a"},"encoding":{"x":{"field":"t","type":"quantitative","scale":{"domain":[0,120]},"axis":null},"y":{"field":"k","type":"nominal","scale":{"domain":["High","Low"]},"axis":{"title":null,"domain":false,"ticks":false,"labelPadding":9,"labelFontSize":7.5,"labelColor":"#1a1a1a"}},"text":{"field":"n"}}}
],"spacing":30,"bounds":"flush","resolve":{"scale":{"color":"independent"},"legend":{"color":"independent"}}},
{"vconcat":[{"width":153,"height":83,"encoding":{"x":{"field":"t","type":"quantitative","scale":{"domain":[0,120]},"axis":{"values":[0,24,48,72,96,120],"title":["Time(months)","Numbers at risk"]}},"y":{"field":"s","type":"quantitative","scale":{"domain":[0,1]},"axis":{"values":[0,0.1,0.2,0.3,0.4,0.5,0.6,0.7,0.8,0.9,1],"format":".1f","title":"Disease-Specific Survival","titlePadding":3}}},"layer":[
{"data":{"name":"km"},"transform":[{"filter":"datum.c=='LUAD'&&datum.g=='C'"}],"mark":{"type":"line","interpolate":"step-after","strokeWidth":1.9},"encoding":{"color":{"field":"k","type":"nominal","scale":{"domain":["High","Low"],"range":["#00BFC4","#F8766D"]},"legend":{"title":null,"orient":"none","legendX":16,"legendY":54}}}},
{"data":{"name":"km"},"transform":[{"filter":"datum.c=='LUAD'&&datum.g=='C'"}],"mark":{"type":"point","shape":"M-1,0H1M0,-1V1","size":16,"strokeWidth":0.9,"opacity":1},"encoding":{"color":{"field":"k","type":"nominal"}}},
{"data":{"name":"pv"},"transform":[{"filter":"datum.c=='LUAD'&&datum.g=='C'"}],"mark":{"type":"text","fontSize":7,"fontWeight":"bold","color":"#000"},"encoding":{"x":{"datum":96,"type":"quantitative"},"y":{"datum":0.1,"type":"quantitative"},"text":{"field":"p"}}}]},
{"width":153,"height":16,"data":{"name":"risk"},"transform":[{"filter":"datum.c=='LUAD'&&datum.g=='C'"}],"mark":{"type":"text","fontSize":7.5,"color":"#1a1a1a"},"encoding":{"x":{"field":"t","type":"quantitative","scale":{"domain":[0,120]},"axis":null},"y":{"field":"k","type":"nominal","scale":{"domain":["High","Low"]},"axis":{"title":null,"domain":false,"ticks":false,"labelPadding":9,"labelFontSize":7.5,"labelColor":"#1a1a1a"}},"text":{"field":"n"}}}
],"spacing":30,"bounds":"flush","resolve":{"scale":{"color":"independent"},"legend":{"color":"independent"}}}
       ],"spacing":31},
       {"hconcat":[
{"vconcat":[{"width":153,"height":83,"encoding":{"x":{"field":"t","type":"quantitative","scale":{"domain":[0,120]},"axis":{"values":[0,24,48,72,96,120],"title":["Time(months)","Numbers at risk"]}},"y":{"field":"s","type":"quantitative","scale":{"domain":[0,1]},"axis":{"values":[0,0.1,0.2,0.3,0.4,0.5,0.6,0.7,0.8,0.9,1],"format":".1f","title":"Disease-Specific Survival","titlePadding":3}}},"layer":[
{"data":{"name":"km"},"transform":[{"filter":"datum.c=='LUSC'&&datum.g=='A'"}],"mark":{"type":"line","interpolate":"step-after","strokeWidth":1.9},"encoding":{"color":{"field":"k","type":"nominal","scale":{"domain":["High","Low"],"range":["#00BFC4","#F8766D"]},"legend":{"title":null,"orient":"none","legendX":16,"legendY":54}}}},
{"data":{"name":"km"},"transform":[{"filter":"datum.c=='LUSC'&&datum.g=='A'"}],"mark":{"type":"point","shape":"M-1,0H1M0,-1V1","size":16,"strokeWidth":0.9,"opacity":1},"encoding":{"color":{"field":"k","type":"nominal"}}},
{"data":{"name":"pv"},"transform":[{"filter":"datum.c=='LUSC'&&datum.g=='A'"}],"mark":{"type":"text","fontSize":7,"fontWeight":"bold","color":"#000"},"encoding":{"x":{"datum":96,"type":"quantitative"},"y":{"datum":0.1,"type":"quantitative"},"text":{"field":"p"}}}]},
{"width":153,"height":16,"data":{"name":"risk"},"transform":[{"filter":"datum.c=='LUSC'&&datum.g=='A'"}],"mark":{"type":"text","fontSize":7.5,"color":"#1a1a1a"},"encoding":{"x":{"field":"t","type":"quantitative","scale":{"domain":[0,120]},"axis":null},"y":{"field":"k","type":"nominal","scale":{"domain":["High","Low"]},"axis":{"title":null,"domain":false,"ticks":false,"labelPadding":9,"labelFontSize":7.5,"labelColor":"#1a1a1a"}},"text":{"field":"n"}}}
],"spacing":30,"bounds":"flush","resolve":{"scale":{"color":"independent"},"legend":{"color":"independent"}}},
{"vconcat":[{"width":153,"height":83,"encoding":{"x":{"field":"t","type":"quantitative","scale":{"domain":[0,120]},"axis":{"values":[0,24,48,72,96,120],"title":["Time(months)","Numbers at risk"]}},"y":{"field":"s","type":"quantitative","scale":{"domain":[0,1]},"axis":{"values":[0,0.1,0.2,0.3,0.4,0.5,0.6,0.7,0.8,0.9,1],"format":".1f","title":"Disease-Specific Survival","titlePadding":3}}},"layer":[
{"data":{"name":"km"},"transform":[{"filter":"datum.c=='LUSC'&&datum.g=='B'"}],"mark":{"type":"line","interpolate":"step-after","strokeWidth":1.9},"encoding":{"color":{"field":"k","type":"nominal","scale":{"domain":["High","Low"],"range":["#00BFC4","#F8766D"]},"legend":{"title":null,"orient":"none","legendX":16,"legendY":54}}}},
{"data":{"name":"km"},"transform":[{"filter":"datum.c=='LUSC'&&datum.g=='B'"}],"mark":{"type":"point","shape":"M-1,0H1M0,-1V1","size":16,"strokeWidth":0.9,"opacity":1},"encoding":{"color":{"field":"k","type":"nominal"}}},
{"data":{"name":"pv"},"transform":[{"filter":"datum.c=='LUSC'&&datum.g=='B'"}],"mark":{"type":"text","fontSize":7,"fontWeight":"bold","color":"#000"},"encoding":{"x":{"datum":96,"type":"quantitative"},"y":{"datum":0.1,"type":"quantitative"},"text":{"field":"p"}}}]},
{"width":153,"height":16,"data":{"name":"risk"},"transform":[{"filter":"datum.c=='LUSC'&&datum.g=='B'"}],"mark":{"type":"text","fontSize":7.5,"color":"#1a1a1a"},"encoding":{"x":{"field":"t","type":"quantitative","scale":{"domain":[0,120]},"axis":null},"y":{"field":"k","type":"nominal","scale":{"domain":["High","Low"]},"axis":{"title":null,"domain":false,"ticks":false,"labelPadding":9,"labelFontSize":7.5,"labelColor":"#1a1a1a"}},"text":{"field":"n"}}}
],"spacing":30,"bounds":"flush","resolve":{"scale":{"color":"independent"},"legend":{"color":"independent"}}},
{"vconcat":[{"width":153,"height":83,"encoding":{"x":{"field":"t","type":"quantitative","scale":{"domain":[0,120]},"axis":{"values":[0,24,48,72,96,120],"title":["Time(months)","Numbers at risk"]}},"y":{"field":"s","type":"quantitative","scale":{"domain":[0,1]},"axis":{"values":[0,0.1,0.2,0.3,0.4,0.5,0.6,0.7,0.8,0.9,1],"format":".1f","title":"Disease-Specific Survival","titlePadding":3}}},"layer":[
{"data":{"name":"km"},"transform":[{"filter":"datum.c=='LUSC'&&datum.g=='C'"}],"mark":{"type":"line","interpolate":"step-after","strokeWidth":1.9},"encoding":{"color":{"field":"k","type":"nominal","scale":{"domain":["High","Low"],"range":["#00BFC4","#F8766D"]},"legend":{"title":null,"orient":"none","legendX":16,"legendY":54}}}},
{"data":{"name":"km"},"transform":[{"filter":"datum.c=='LUSC'&&datum.g=='C'"}],"mark":{"type":"point","shape":"M-1,0H1M0,-1V1","size":16,"strokeWidth":0.9,"opacity":1},"encoding":{"color":{"field":"k","type":"nominal"}}},
{"data":{"name":"pv"},"transform":[{"filter":"datum.c=='LUSC'&&datum.g=='C'"}],"mark":{"type":"text","fontSize":7,"fontWeight":"bold","color":"#000"},"encoding":{"x":{"datum":96,"type":"quantitative"},"y":{"datum":0.1,"type":"quantitative"},"text":{"field":"p"}}}]},
{"width":153,"height":16,"data":{"name":"risk"},"transform":[{"filter":"datum.c=='LUSC'&&datum.g=='C'"}],"mark":{"type":"text","fontSize":7.5,"color":"#1a1a1a"},"encoding":{"x":{"field":"t","type":"quantitative","scale":{"domain":[0,120]},"axis":null},"y":{"field":"k","type":"nominal","scale":{"domain":["High","Low"]},"axis":{"title":null,"domain":false,"ticks":false,"labelPadding":9,"labelFontSize":7.5,"labelColor":"#1a1a1a"}},"text":{"field":"n"}}}
],"spacing":30,"bounds":"flush","resolve":{"scale":{"color":"independent"},"legend":{"color":"independent"}}}
       ],"spacing":31}
     ],"spacing":30}
   ],"spacing":0}
  ],"spacing":27}
],"spacing":7
}
